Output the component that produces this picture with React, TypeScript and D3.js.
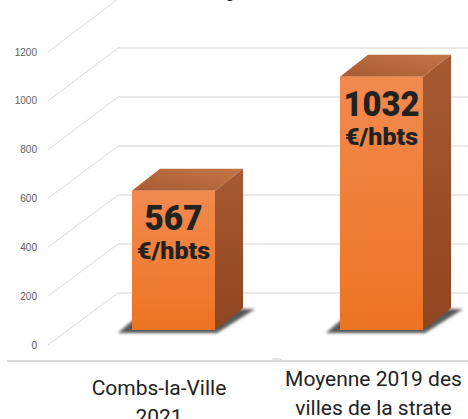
import React from "react";
import * as d3 from "d3";

const categories = ["Combs-la-Ville 2021", "Moyenne 2019 des villes de la strate"];
const categoryLines = [["Combs-la-Ville", "2021"], ["Moyenne 2019 des", "villes de la strate"]];
const values = [567, 1032];
const valueUnits = ["€/hbts", "€/hbts"];
const tickValues = [0, 200, 400, 600, 800, 1000, 1200];

const W = 468;
const H = 419;

export default function App() {
  // front plane of bars
  const yBar = d3.scaleLinear().domain([0, 1200]).range([330, 35.4]);
  // back wall
  const yBack = d3.scaleLinear().domain([0, 1200]).range([293, -1]);
  // label plane (front)
  const yLab = d3.scaleLinear().domain([0, 1200]).range([345, 52]);
  const xBar = d3.scalePoint<string>().domain(categories).range([173.5, 381.5]);
  const xCat = d3.scalePoint<string>().domain(categories).range([159, 373.5]);
  const bw = 83;
  const dx = 28;
  const dy = -22;
  const labX = 48;
  const backX = 118;

  return (
    <svg width={W} height={H} style={{ position: "absolute", left: 0, top: 0, background: "#fff" }}>
      <defs>
        <linearGradient id="front" x1="0" y1="0" x2="0" y2="1">
          <stop offset="0" stopColor="#f18a4f" />
          <stop offset="1" stopColor="#ee7322" />
        </linearGradient>
        <linearGradient id="side" x1="0" y1="0" x2="0" y2="1">
          <stop offset="0" stopColor="#a65a33" />
          <stop offset="1" stopColor="#8f4520" />
        </linearGradient>
        <linearGradient id="top" x1="0" y1="1" x2="1" y2="0">
          <stop offset="0" stopColor="#a95a31" />
          <stop offset="1" stopColor="#c27648" />
        </linearGradient>
        <filter id="blur" x="-20%" y="-50%" width="140%" height="200%">
          <feGaussianBlur stdDeviation="1.5" />
        </filter>
      </defs>

      {/* clipped title descender */}
      <text x={226} y={-4} fontFamily="Roboto, sans-serif" fontWeight={900} fontSize={26} fill="#222">y</text>

      {/* back wall gridlines and diagonals */}
      {tickValues.map((t) => (
        <g key={t}>
          <line x1={backX} x2={W} y1={yBack(t)} y2={yBack(t)} stroke="#e2e2e2" strokeWidth={1.5} />
          <line x1={labX} y1={yLab(t)} x2={backX} y2={yBack(t)} stroke="#dadada" strokeWidth={1} />
          <text x={37} y={yLab(t)} dy="0.35em" textAnchor="end" fontFamily="'Liberation Sans', Arial, sans-serif" fontSize={10} fill="#606060">{t}</text>
        </g>
      ))}

      {/* bottom axis line */}
      <line x1={7} x2={W} y1={361} y2={361} stroke="#cfcfcf" strokeWidth={1.5} />
      <path d="M273,361 v-2 h8 v2" fill="none" stroke="#cfcfcf" strokeWidth={1} />

      {/* bars */}
      {categories.map((c, i) => {
        const cx = xBar(c)!;
        const x0 = cx - bw / 2;
        const x1 = cx + bw / 2;
        const y0 = yBar(0);
        const yt = yBar(values[i]);
        const shadow = `M${x0 - 14},${y0 + 3} L${x1 + 2},${y0 + 3} L${x1 + dx + 12},${y0 + dy + 1} L${x0 + dx - 14},${y0 + dy + 1} Z`;
        return (
          <g key={c}>
            <path d={shadow} fill="#3a3a3a" opacity={0.85} filter="url(#blur)" />
            <path d={`M${x0},${yt} L${x0 + dx},${yt + dy} L${x1 + dx},${yt + dy} L${x1},${yt} Z`} fill="url(#top)" />
            <path d={`M${x1},${yt} L${x1 + dx},${yt + dy} L${x1 + dx},${y0 + dy} L${x1},${y0} Z`} fill="url(#side)" />
            <rect x={x0} y={yt} width={bw} height={y0 - yt} fill="url(#front)" />
            <text x={cx} y={yt + 39} textAnchor="middle" fontFamily="Roboto, sans-serif" fontWeight={900} fontSize={35} fill="#222" textLength={values[i] >= 1000 ? 76 : 58} lengthAdjust="spacingAndGlyphs">{values[i]}</text>
            <text x={cx} y={yt + 68} textAnchor="middle" fontFamily="Roboto, sans-serif" fontWeight={900} fontSize={23} fill="#222" textLength={73} lengthAdjust="spacingAndGlyphs">{valueUnits[i]}</text>
          </g>
        );
      })}

      {/* category labels */}
      {categories.map((c, i) => {
        const offs = i === 0 ? 395 : 386;
        return (
          <text key={c} x={xCat(c)!} textAnchor="middle" fontFamily="Roboto, sans-serif" fontSize={21} fill="#222">
            {categoryLines[i].map((l, j) => (
              <tspan key={j} x={xCat(c)!} y={offs + j * 29}>{l}</tspan>
            ))}
          </text>
        );
      })}
    </svg>
  );
}
